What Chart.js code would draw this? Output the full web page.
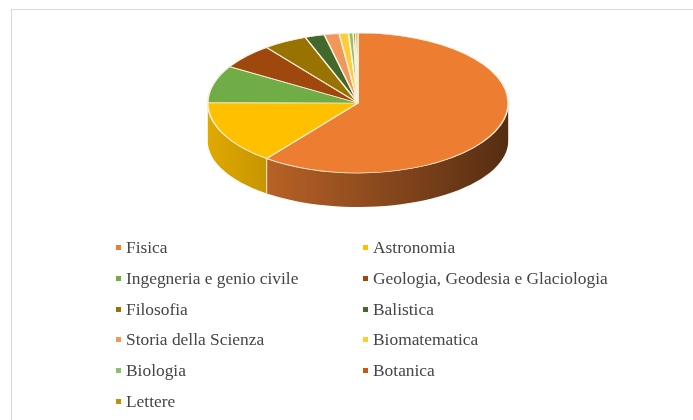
<!DOCTYPE html>
<html lang="it">
<head>
    <meta charset="UTF-8">
    <title>Discipline</title>
    <script src="https://cdn.jsdelivr.net/npm/chart.js"></script>
    <style>
        body {
            margin: 0;
            background: #ffffff;
        }
        .frame {
            position: absolute;
            left: 11px;
            top: 9px;
            width: 700px;
            height: 420px;
            border-left: 1px solid #d9d9d9;
            border-top: 1px solid #d9d9d9;
        }
        .chart-container {
            position: absolute;
            left: 0;
            top: 0;
            width: 693px;
            height: 420px;
        }
        .legend-item {
            position: absolute;
            white-space: nowrap;
            font-family: "Liberation Serif", "Times New Roman", serif;
            font-size: 17.4px;
            line-height: 20px;
            color: #454545;
        }
        .legend-item .box {
            position: absolute;
            left: -10px;
            top: 8px;
            width: 5px;
            height: 5px;
        }
    </style>
</head>
<body>
    <div class="frame"></div>
    <div class="chart-container">
        <canvas id="pieChart"></canvas>
    </div>
    <div id="legend"></div>

    <script>
        const categories = [
            "Fisica", "Astronomia", "Ingegneria e genio civile",
            "Geologia, Geodesia e Glaciologia", "Filosofia", "Balistica",
            "Storia della Scienza", "Biomatematica", "Biologia", "Botanica", "Lettere"
        ];
        const values = [60.4, 14.7, 8.6, 5.9, 4.7, 2.1, 1.6, 1.0, 0.5, 0.25, 0.25];

        const colors = [
            "#ED7D31", "#FFC000", "#70AD47", "#9E480E", "#997300", "#43682B",
            "#F1975A", "#FFCD33", "#8CC168", "#C55A11", "#BF9000"
        ];

        // top face ellipse and bottom edge of the side wall
        const TOP_Y = 103, TOP_B = 70;
        const BOT_Y = 141, BOT_B = 66;

        function shade(hex, f) {
            const n = parseInt(hex.slice(1), 16);
            const r = Math.round(((n >> 16) & 255) * f);
            const g = Math.round(((n >> 8) & 255) * f);
            const b = Math.round((n & 255) * f);
            return `rgb(${r},${g},${b})`;
        }

        const pie3d = {
            id: 'pie3d',
            beforeDatasetsDraw(chart) {
                const ctx = chart.ctx;
                const arcs = chart.getDatasetMeta(0).data;
                const cx = arcs[0].x, cy = arcs[0].y, R = arcs[0].outerRadius;
                const steps = 40;

                // side walls (front half only)
                arcs.forEach((arc, i) => {
                    const a1 = Math.max(arc.startAngle, 0);
                    const a2 = Math.min(arc.endAngle, Math.PI);
                    if (a2 <= a1) return;
                    ctx.beginPath();
                    for (let k = 0; k <= steps; k++) {
                        const t = a1 + (a2 - a1) * k / steps;
                        const x = cx + R * Math.cos(t), y = TOP_Y + TOP_B * Math.sin(t);
                        if (k === 0) ctx.moveTo(x, y); else ctx.lineTo(x, y);
                    }
                    for (let k = steps; k >= 0; k--) {
                        const t = a1 + (a2 - a1) * k / steps;
                        ctx.lineTo(cx + R * Math.cos(t), BOT_Y + BOT_B * Math.sin(t));
                    }
                    ctx.closePath();
                    const grad = ctx.createLinearGradient(cx - R, 0, cx + R, 0);
                    grad.addColorStop(0, shade(colors[i], 0.88));
                    grad.addColorStop(1, shade(colors[i], 0.36));
                    ctx.fillStyle = grad;
                    ctx.fill();
                });

                // seams between slices on the side
                ctx.strokeStyle = '#f7e8cf';
                ctx.lineWidth = 1;
                arcs.forEach(arc => {
                    const t = arc.endAngle;
                    if (t > 0 && t < Math.PI) {
                        const x = cx + R * Math.cos(t);
                        ctx.beginPath();
                        ctx.moveTo(x, TOP_Y + TOP_B * Math.sin(t));
                        ctx.lineTo(x, BOT_Y + BOT_B * Math.sin(t));
                        ctx.stroke();
                    }
                });

                // flatten the top face
                ctx.save();
                ctx.translate(cx, TOP_Y);
                ctx.scale(1, TOP_B / R);
                ctx.translate(-cx, -cy);
            },
            afterDatasetsDraw(chart) {
                chart.ctx.restore();
            }
        };

        const ctx = document.getElementById("pieChart").getContext("2d");
        new Chart(ctx, {
            type: 'pie',
            data: {
                labels: categories,
                datasets: [{
                    data: values,
                    backgroundColor: colors,
                    borderColor: '#fbf0dc',
                    borderWidth: 1.6,
                    clip: false
                }]
            },
            options: {
                responsive: true,
                maintainAspectRatio: false,
                animation: false,
                events: [],
                layout: {
                    padding: { left: 207, right: 184, top: 0, bottom: 118 }
                },
                plugins: {
                    legend: { display: false },
                    tooltip: { enabled: false }
                }
            },
            plugins: [pie3d]
        });

        // two-column legend
        const legend = document.getElementById("legend");
        categories.forEach((name, i) => {
            const item = document.createElement("div");
            item.className = "legend-item";
            item.style.left = (i % 2 === 0 ? 126 : 373) + "px";
            item.style.top = (237 + Math.floor(i / 2) * 30.8) + "px";
            const box = document.createElement("span");
            box.className = "box";
            box.style.background = colors[i];
            item.appendChild(box);
            item.appendChild(document.createTextNode(name));
            legend.appendChild(item);
        });
    </script>
</body>
</html>
